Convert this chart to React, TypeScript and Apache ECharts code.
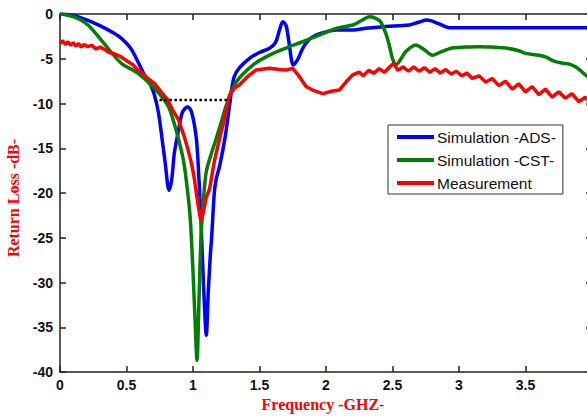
import React, { useEffect, useRef } from "react";
import * as echarts from "echarts";

// Simulation -ADS-
const adsFreq = [0, 0.1, 0.21, 0.3, 0.4, 0.46, 0.53, 0.585, 0.64, 0.68, 0.71, 0.74, 0.76, 0.79, 0.82, 0.84, 0.86, 0.89, 0.92, 0.96, 0.99, 1.025, 1.045, 1.06, 1.08, 1.1, 1.115, 1.13, 1.14, 1.16, 1.175, 1.2, 1.24, 1.275, 1.29, 1.31, 1.35, 1.425, 1.5, 1.575, 1.62, 1.65, 1.675, 1.7, 1.72, 1.755, 1.79, 1.825, 1.87, 1.925, 2.0, 2.075, 2.2, 2.3, 2.45, 2.625, 2.7, 2.76, 2.85, 2.925, 3.2, 3.6, 4.0];
const adsLoss = [0, -0.15, -0.7, -1.3, -2.1, -2.7, -3.8, -5.3, -7.0, -7.9, -9.05, -11.0, -13.1, -16.5, -19.7, -18.5, -15.5, -13.1, -11.0, -10.35, -11.0, -13.9, -18.5, -23.2, -30.5, -35.9, -31, -27, -25, -20, -18.4, -17, -13.9, -10.2, -8.5, -7.0, -6.0, -4.95, -4.3, -3.83, -3.2, -1.8, -0.86, -1.3, -3.0, -5.7, -5.0, -3.83, -2.9, -2.35, -2.0, -1.8, -1.8, -1.6, -1.4, -1.23, -0.9, -0.67, -1.1, -1.53, -1.53, -1.53, -1.53];

// Simulation -CST-
const cstFreq = [0, 0.1, 0.21, 0.34, 0.46, 0.585, 0.71, 0.81, 0.85, 0.89, 0.93, 0.96, 0.98, 1.0, 1.015, 1.03, 1.045, 1.06, 1.08, 1.1, 1.14, 1.175, 1.22, 1.26, 1.325, 1.45, 1.575, 1.7, 1.825, 1.95, 2.075, 2.2, 2.27, 2.325, 2.37, 2.41, 2.45, 2.475, 2.5, 2.525, 2.56, 2.6, 2.675, 2.74, 2.8, 2.87, 2.95, 3.05, 3.15, 3.25, 3.35, 3.45, 3.5, 3.6, 3.65, 3.72, 3.78, 3.83, 3.875, 3.92, 3.95, 4.0];
const cstLoss = [0, -0.3, -1.23, -3.46, -5.5, -6.6, -8.3, -10.2, -11.8, -13.9, -16.5, -19.9, -23, -28.8, -34, -38.7, -32, -25, -20.5, -17.6, -15.5, -13.9, -11.7, -9.8, -7.6, -5.7, -4.6, -3.8, -3.1, -2.35, -1.6, -1.23, -0.7, -0.3, -0.45, -0.86, -2.2, -3.46, -5.0, -5.7, -5.1, -4.2, -3.46, -4.0, -4.6, -4.2, -3.8, -3.7, -3.65, -3.7, -3.8, -4.1, -4.4, -4.6, -4.8, -5.3, -5.5, -5.6, -5.9, -6.4, -6.8, -7.3];

// Measurement
const measFreq = [0, 0.02, 0.04, 0.06, 0.08, 0.1, 0.12, 0.14, 0.16, 0.18, 0.21, 0.24, 0.27, 0.3, 0.34, 0.37, 0.4, 0.43, 0.46, 0.5, 0.55, 0.585, 0.62, 0.66, 0.71, 0.76, 0.81, 0.85, 0.89, 0.93, 0.96, 0.99, 1.01, 1.04, 1.06, 1.08, 1.1, 1.125, 1.16, 1.2, 1.24, 1.275, 1.31, 1.35, 1.41, 1.475, 1.575, 1.65, 1.7, 1.75, 1.79, 1.85, 1.9, 1.975, 2.05, 2.1, 2.15, 2.2, 2.25, 2.28, 2.32, 2.36, 2.4, 2.44, 2.48, 2.51, 2.54, 2.58, 2.62, 2.66, 2.7, 2.74, 2.78, 2.82, 2.86, 2.9, 2.94, 2.98, 3.02, 3.06, 3.1, 3.15, 3.2, 3.25, 3.3, 3.35, 3.4, 3.45, 3.5, 3.55, 3.6, 3.65, 3.7, 3.75, 3.8, 3.85, 3.9, 3.95, 4.0];
const measLoss = [-3.3, -3.0, -3.4, -3.1, -3.5, -3.2, -3.6, -3.3, -3.7, -3.4, -3.65, -3.5, -3.9, -3.7, -4.0, -4.3, -4.4, -4.6, -4.8, -5.2, -5.7, -6.25, -6.6, -7.2, -7.75, -8.7, -9.6, -10.8, -11.8, -13.5, -15.0, -16.8, -18.4, -21.5, -23.2, -22, -20.5, -19.5, -16.5, -13.9, -11.5, -9.05, -8.3, -7.9, -7.0, -6.25, -6.07, -6.2, -6.25, -6.07, -6.8, -8.1, -8.5, -8.9, -8.6, -8.5, -7.6, -6.8, -6.5, -6.9, -6.3, -6.6, -6.1, -6.5, -5.9, -5.5, -6.3, -5.9, -6.4, -5.9, -6.4, -6.0, -6.5, -6.1, -6.6, -6.2, -6.7, -6.4, -6.9, -6.6, -7.2, -6.9, -7.6, -7.2, -8.0, -7.5, -8.4, -7.8, -8.7, -8.1, -9.0, -8.4, -9.3, -8.7, -9.4, -8.9, -9.8, -9.3, -10.0];

// -10 dB bandwidth marker
const bandFreq = [0.71, 1.28];
const bandLoss = [-9.6, -9.6];

const xTicks = { min: 0, max: 4, interval: 0.5 };
const yTicks = { min: -40, max: 0, interval: 5 };

const zip = (f: number[], v: number[]) => f.map((x, i) => [x, v[i]]);

export default function App() {
  const ref = useRef<HTMLDivElement>(null);
  useEffect(() => {
    document.body.style.margin = "0";
    const chart = echarts.init(ref.current!, null, { renderer: "svg" });
    const axisLine = { onZero: false, lineStyle: { color: "#222", width: 1.5 } };
    const axisTick = { inside: true, length: 6, lineStyle: { color: "#222", width: 1.5 } };
    const labelStyle = { color: "#111", fontWeight: "bold", fontSize: 14, fontFamily: "Liberation Sans, Arial, sans-serif" };
    const nameStyle = { color: "#ff0000", fontFamily: "Liberation Serif, Times New Roman, serif", fontWeight: "bold", fontSize: 16 };
    chart.setOption({
      animation: false,
      backgroundColor: "#fff",
      grid: { left: 60, top: 14, right: -5, bottom: 44, containLabel: false, outerBoundsMode: "none" },
      legend: {
        orient: "vertical",
        left: 388,
        top: 125,
        data: ["Simulation -ADS-", "Simulation -CST-", "Measurement"],
        icon: "rect",
        itemWidth: 37,
        itemHeight: 4,
        itemGap: 7,
        padding: [4, 7, 3, 9],
        backgroundColor: "#fff",
        borderColor: "#333",
        borderWidth: 1,
        textStyle: { fontSize: 15.5, color: "#111", fontFamily: "Liberation Sans, Arial, sans-serif", padding: [0, 0, 0, -2] },
      },
      xAxis: [
        {
          type: "value", ...xTicks, position: "bottom",
          axisLine, axisTick, splitLine: { show: false },
          axisLabel: { ...labelStyle, margin: 6, showMaxLabel: false },
          name: "Frequency -GHZ-", nameLocation: "middle", nameGap: 24,
          nameTextStyle: { ...nameStyle, padding: [0, 6, 0, 0] },
        },
        {
          type: "value", ...xTicks, position: "top",
          axisLine, axisTick, splitLine: { show: false }, axisLabel: { show: false },
        },
      ],
      yAxis: [
        {
          type: "value", ...yTicks, position: "left",
          axisLine, axisTick, splitLine: { show: false },
          axisLabel: { ...labelStyle, margin: 7 },
          name: "Return Loss -dB-", nameLocation: "middle", nameGap: 35,
          nameTextStyle: { ...nameStyle, padding: [0, 10, 0, 0] },
        },
        {
          type: "value", ...yTicks, position: "right",
          axisLine, axisTick, splitLine: { show: false }, axisLabel: { show: false },
        },
      ],
      series: [
        { name: "Simulation -ADS-", type: "line", data: zip(adsFreq, adsLoss), showSymbol: false, smooth: 0.3, lineStyle: { color: "#0000ff", width: 3.5 }, itemStyle: { color: "#0000ff" } },
        { name: "Simulation -CST-", type: "line", data: zip(cstFreq, cstLoss), showSymbol: false, smooth: 0.3, lineStyle: { color: "#008000", width: 3.5 }, itemStyle: { color: "#008000" } },
        { name: "Measurement", type: "line", data: zip(measFreq, measLoss), showSymbol: false, lineStyle: { color: "#ff0000", width: 3.5 }, itemStyle: { color: "#ff0000" } },
        { type: "line", data: zip(bandFreq, bandLoss), showSymbol: false, silent: true, lineStyle: { color: "#000", width: 2.5, type: [2.5, 2.5] } },
      ],
    });
    return () => chart.dispose();
  }, []);
  return <div ref={ref} style={{ width: 587, height: 416 }} />;
}
